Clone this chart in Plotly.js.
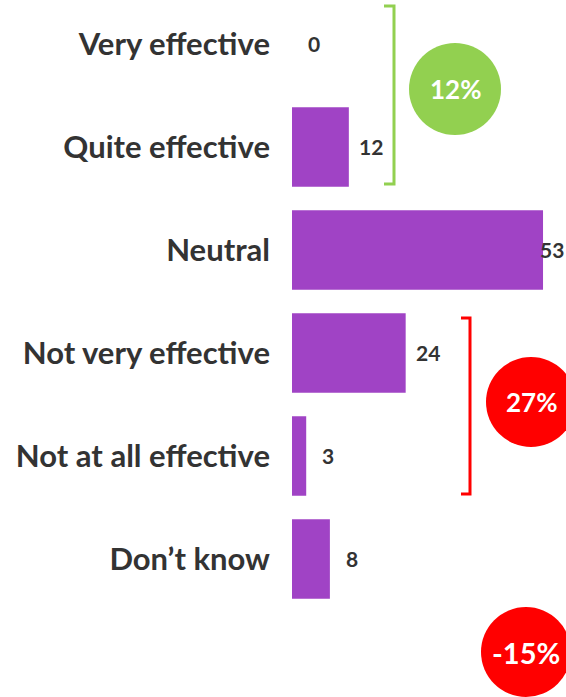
<!DOCTYPE html>
<html>
<head>
<meta charset="utf-8">
<script src="https://cdn.plot.ly/plotly-3.0.1.min.js"></script>
<style>html,body{margin:0;padding:0;background:#fff;}#chart{width:566px;height:697px;}</style>
</head>
<body>
<div id="chart"></div>
<script>
const categories = ["Very effective", "Quite effective", "Neutral", "Not very effective", "Not at all effective", "Don\u2019t know"];
const values = [0, 12, 53, 24, 3, 8];
const netEffective = "12%";
const netIneffective = "27%";
const netScore = "-15%";

const W = 566, H = 697, L = 292;
const PW = W - L;
const px = x => (x - L) / PW;
const py = y => 1 - y / H;
const font = "Lato, 'Open Sans', sans-serif";
const dark = "#333333";
const xMax = 57.85;

const trace = {
  type: "bar",
  orientation: "h",
  x: values,
  y: categories,
  marker: {color: "#a043c5"},
  width: 0.77,
  hoverinfo: "none"
};

const annotations = values.map((v, i) => {
  const base = {y: categories[i], yref: "y", text: String(v), showarrow: false,
    font: {family: font, size: 21, color: dark, weight: 700}};
  if (v > xMax * 0.9) {
    return Object.assign(base, {x: 1, xref: "paper", xanchor: "right"});
  }
  return Object.assign(base, {x: v, xref: "x", xanchor: "center", xshift: 22});
});

function circle(cx, cy, r, color, label, size) {
  annotations.push({x: px(cx), y: py(cy), xref: "paper", yref: "paper", text: label,
    showarrow: false, xanchor: "center", yanchor: "middle",
    font: {family: font, size: size, color: "#ffffff", weight: 700}});
  return {type: "circle", xref: "paper", yref: "paper", xsizemode: "pixel", ysizemode: "pixel",
    xanchor: px(cx), yanchor: py(cy), x0: -r, x1: r, y0: -r, y1: r,
    fillcolor: color, line: {width: 0}, layer: "above"};
}
function bracket(x, y0, y1, tick, color) {
  return {type: "path", xref: "paper", yref: "paper",
    path: `M ${px(x - tick)} ${py(y0)} L ${px(x)} ${py(y0)} L ${px(x)} ${py(y1)} L ${px(x - tick)} ${py(y1)}`,
    line: {color: color, width: 3}, layer: "above"};
}

const shapes = [
  bracket(394, 6, 184, 10, "#92d050"),
  bracket(470, 318, 494, 9, "#ff0000"),
  circle(455, 89, 46, "#92d050", netEffective, 26),
  circle(531, 402, 45, "#ff0000", netIneffective, 26),
  circle(526, 652, 45, "#ff0000", netScore, 29)
];

const layout = {
  width: W, height: H,
  margin: {l: L, r: 0, t: 0, b: 0},
  paper_bgcolor: "#ffffff", plot_bgcolor: "#ffffff",
  showlegend: false,
  xaxis: {range: [0, xMax], visible: false, fixedrange: true},
  yaxis: {range: [6.34, -0.427], showgrid: false, zeroline: false, showline: false,
    ticks: "", ticklabelstandoff: 21,
    tickfont: {family: font, size: 31, color: dark, weight: 700}},
  annotations: annotations,
  shapes: shapes
};

Plotly.newPlot("chart", [trace], layout, {displayModeBar: false, staticPlot: true});
</script>
</body>
</html>
